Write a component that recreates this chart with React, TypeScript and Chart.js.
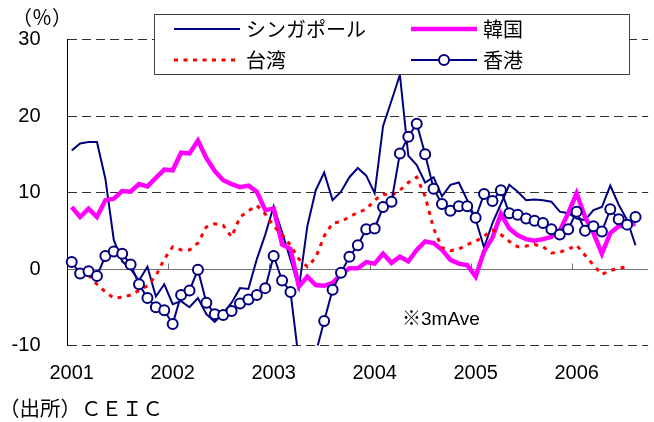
import React, { useEffect, useRef } from "react";
import { Chart, registerables } from "chart.js";

Chart.register(...registerables);

// ---- data ----
const years = ["2001", "2002", "2003", "2004", "2005", "2006"];
const monthNums = ["1", "2", "3", "4", "5", "6", "7", "8", "9", "10", "11", "12"];
const categories: string[] = years.flatMap((y) => monthNums.map((m) => `${y}/${m}`)).slice(0, 69);

const seriesNames = ["シンガポール", "韓国", "台湾", "香港"];

const singapore: (number | null)[] = [
  15.5, 16.4, 16.6, 16.6, 11.8, 3.8, 1.0, 0.0, -1.5, 0.3, -3.6, -2.0,
  -4.6, -4.2, -5.0, -3.8, -5.9, -6.9, -5.8, -4.4, -2.5, -2.6, 1.3, 4.5,
  8.2, 4.8, 1.2, -2.5, 5.6, 10.3, 12.6, 9.0, 10.1, 12.0, 13.2, 12.2,
  9.9, 18.7, 22.0, 25.4, 14.8, 13.6, 11.3, 12.0, 9.5, 11.0, 11.3, 9.0,
  6.5, 2.8, 6.0, 8.5, 11.0, 10.1, 9.0, 9.1, 9.0, 8.8, 7.5, 7.3,
  6.6, 6.4, 7.7, 8.1, 10.9, 8.4, 6.4, 3.1, null,
];

const korea: (number | null)[] = [
  8.1, 6.8, 7.9, 6.8, 9.0, 9.2, 10.2, 10.1, 11.1, 10.8, 11.9, 13.0,
  12.9, 15.2, 15.1, 16.8, 14.5, 12.8, 11.6, 11.1, 10.7, 10.9, 10.1, 7.7,
  7.9, 3.2, 2.6, -2.3, -1.0, -2.1, -2.2, -1.8, -0.7, 0.1, 0.1, 0.9,
  0.7, 2.0, 0.8, 1.6, 1.0, 2.5, 3.6, 3.4, 2.5, 1.2, 0.7, 0.5,
  -1.0, 2.3, 4.1, 7.2, 5.3, 4.4, 3.9, 3.7, 3.9, 4.2, 5.0, 7.3,
  9.9, 6.8, 4.7, 2.0, 4.7, 5.6, 5.75, 5.9, null,
];

const taiwan: (number | null)[] = [
  null, null, -0.8, -2.0, -3.0, -3.8, -3.7, -3.4, -2.8, -2.2, -0.9, 1.3,
  2.9, 2.5, 2.5, 3.4, 5.5, 5.9, 5.7, 4.2, 6.8, 7.6, 8.3, 7.2,
  5.6, 4.5, 3.1, 1.3, 0.3, 1.5, 4.3, 6.0, 6.2, 6.8, 7.4, 7.8,
  9.0, 9.8, 9.6, 10.3, 11.3, 12.0, 9.5, 5.3, 2.8, 2.4, 2.6, 3.2,
  3.6, 4.3, 5.1, 4.5, 3.6, 2.9, 3.0, 3.2, 2.9, 2.1, 2.2, 2.6,
  3.1, 1.8, 0.5, -0.7, -0.2, 0.1, 0.3, null, null,
];

const hongkong: (number | null)[] = [
  0.9, -0.6, -0.3, -0.9, 1.7, 2.3, 2.0, 0.6, -2.0, -3.8, -5.0, -5.4,
  -7.2, -3.4, -2.8, -0.1, -4.4, -5.9, -6.0, -5.5, -4.5, -4.0, -3.4, -2.5,
  1.7, -1.5, -3.0, -12.0, -14.0, -11.0, -6.8, -2.7, -0.5, 1.6, 3.1, 5.2,
  5.3, 8.1, 8.8, 15.1, 17.3, 19.0, 15.0, 10.5, 8.5, 7.6, 8.2, 8.2,
  6.7, 9.8, 8.9, 10.3, 7.3, 7.1, 6.6, 6.3, 6.0, 5.2, 4.5, 5.2,
  7.5, 5.0, 5.6, 4.9, 7.8, 6.5, 5.8, 6.8, null,
];

const yMin = -10;
const yMax = 30;
const yStep = 10;

const unitLabel = "（％）";
const sourceLabel = "（出所）ＣＥＩＣ";
const noteLabel = "※3mAve";

// ---- styles ----
const NUM_FONT = "'Liberation Sans', Arial, sans-serif";
const JP_FONT = "'Noto Sans CJK JP', 'Noto Sans CJK SC', sans-serif";
const NAVY = "#000080";
const MAGENTA = "#FF00FF";
const RED = "#FF0000";
const TW_DASH = [4, 5.5];

const overlayPlugin = {
  id: "overlay",
  beforeDatasetsDraw(chart: any) {
    const ctx = chart.ctx as CanvasRenderingContext2D;
    const xs = chart.scales.x;
    const ys = chart.scales.y;
    const y0 = Math.round(ys.getPixelForValue(0) - 0.5) + 0.5;
    ctx.save();
    ctx.strokeStyle = "#707070";
    ctx.lineWidth = 1;
    for (let i = 12; i < categories.length; i += 12) {
      const xp = (xs.getPixelForValue(i - 1) + xs.getPixelForValue(i)) / 2;
      const xa = Math.round(xp - 0.5) + 0.5;
      ctx.beginPath();
      ctx.moveTo(xa, y0);
      ctx.lineTo(xa, y0 - 6);
      ctx.stroke();
    }
    ctx.restore();
  },
  afterDraw(chart: any) {
    const ctx = chart.ctx as CanvasRenderingContext2D;
    ctx.save();
    // legend box
    ctx.fillStyle = "#ffffff";
    ctx.fillRect(154.5, 14.5, 475, 60);
    ctx.strokeStyle = "#404040";
    ctx.lineWidth = 1;
    ctx.strokeRect(154.5, 14.5, 475, 60);

    const row1 = 29;
    const row2 = 60;
    const c1 = [174, 240, 246];
    const c2 = [411, 477, 483];

    // Singapore
    ctx.strokeStyle = NAVY;
    ctx.lineWidth = 2;
    ctx.beginPath();
    ctx.moveTo(c1[0], row1);
    ctx.lineTo(c1[1], row1);
    ctx.stroke();
    // Korea
    ctx.strokeStyle = MAGENTA;
    ctx.lineWidth = 4.5;
    ctx.beginPath();
    ctx.moveTo(c2[0], row1);
    ctx.lineTo(c2[1], row1);
    ctx.stroke();
    // Taiwan
    ctx.strokeStyle = RED;
    ctx.lineWidth = 3;
    ctx.setLineDash(TW_DASH);
    ctx.beginPath();
    ctx.moveTo(c1[0], row2);
    ctx.lineTo(c1[1], row2);
    ctx.stroke();
    ctx.setLineDash([]);
    // Hong Kong
    ctx.strokeStyle = NAVY;
    ctx.lineWidth = 2;
    ctx.beginPath();
    ctx.moveTo(c2[0], row2);
    ctx.lineTo(c2[1], row2);
    ctx.stroke();
    ctx.fillStyle = "#ffffff";
    ctx.beginPath();
    ctx.arc((c2[0] + c2[1]) / 2, row2, 5, 0, Math.PI * 2);
    ctx.fill();
    ctx.stroke();

    ctx.fillStyle = "#000000";
    ctx.textBaseline = "middle";
    ctx.textAlign = "left";
    ctx.font = `20px ${JP_FONT}`;
    ctx.fillText(seriesNames[0], c1[2], row1);
    ctx.fillText(seriesNames[1], c2[2], row1);
    ctx.fillText(seriesNames[2], c1[2], row2);
    ctx.fillText(seriesNames[3], c2[2], row2);

    // unit label
    ctx.font = `20px ${JP_FONT}`;
    ctx.fillText(unitLabel, 12, 17);
    // source
    ctx.font = `20.5px ${JP_FONT}`;
    ctx.fillText(sourceLabel, -1, 408);
    // note
    ctx.font = `19px 'Liberation Sans', 'Noto Sans CJK JP', sans-serif`;
    ctx.fillText(noteLabel, 402, 320);
    ctx.restore();
  },
};

export default function App() {
  const ref = useRef<HTMLCanvasElement | null>(null);

  useEffect(() => {
    if (!ref.current) return;
    const chart = new Chart(ref.current, {
      type: "line",
      data: {
        labels: categories,
        datasets: [
          {
            label: seriesNames[0],
            data: singapore,
            borderColor: NAVY,
            borderWidth: 2,
            pointRadius: 0,
            tension: 0,
            order: 3,
          },
          {
            label: seriesNames[1],
            data: korea,
            borderColor: MAGENTA,
            borderWidth: 4.5,
            pointRadius: 0,
            tension: 0,
            order: 2,
          },
          {
            label: seriesNames[2],
            data: taiwan,
            borderColor: RED,
            borderWidth: 3,
            borderDash: TW_DASH,
            pointRadius: 0,
            tension: 0,
            order: 1,
          },
          {
            label: seriesNames[3],
            data: hongkong,
            borderColor: NAVY,
            borderWidth: 2,
            pointRadius: 5,
            pointBorderWidth: 2,
            pointBorderColor: NAVY,
            pointBackgroundColor: "#ffffff",
            tension: 0,
            order: 0,
          },
        ],
      },
      options: {
        responsive: false,
        maintainAspectRatio: false,
        animation: false,
        devicePixelRatio: 1,
        layout: { padding: { left: 7.5, top: 39.5, right: 1.5, bottom: 26.5 } },
        plugins: {
          legend: { display: false },
          tooltip: { enabled: false },
        },
        scales: {
          x: {
            type: "category",
            offset: true,
            grid: { display: false, drawTicks: false },
            border: { display: false },
            ticks: {
              autoSkip: false,
              maxRotation: 0,
              minRotation: 0,
              padding: 16,
              color: "#000",
              font: { family: NUM_FONT, size: 20 },
              callback: (_v: any, i: number) => (i % 12 === 0 ? years[i / 12] : ""),
            },
            afterFit: (s: any) => {
              s.height = 50;
            },
          },
          y: {
            min: yMin,
            max: yMax,
            ticks: {
              stepSize: yStep,
              padding: 27,
              color: "#000",
              font: { family: NUM_FONT, size: 20 },
            },
            grid: {
              drawTicks: false,
              color: (c: any) => (c.tick && c.tick.value === 0 ? "#707070" : "#303030"),
              lineWidth: 1,
            },
            border: {
              display: true,
              color: "#000",
              width: 1,
              dash: (c: any) => (c.tick && c.tick.value === 0 ? [] : [9, 5]),
            },
            afterFit: (s: any) => {
              s.width = 60;
            },
          },
        },
      },
      plugins: [overlayPlugin],
    } as any);
    return () => chart.destroy();
  }, []);

  return (
    <div
      style={{
        position: "absolute",
        left: 0,
        top: 0,
        width: 654,
        height: 422,
        overflow: "hidden",
        background: "#fff",
      }}
    >
      <canvas ref={ref} width={660} height={422} style={{ display: "block", width: 660, height: 422 }} />
    </div>
  );
}
